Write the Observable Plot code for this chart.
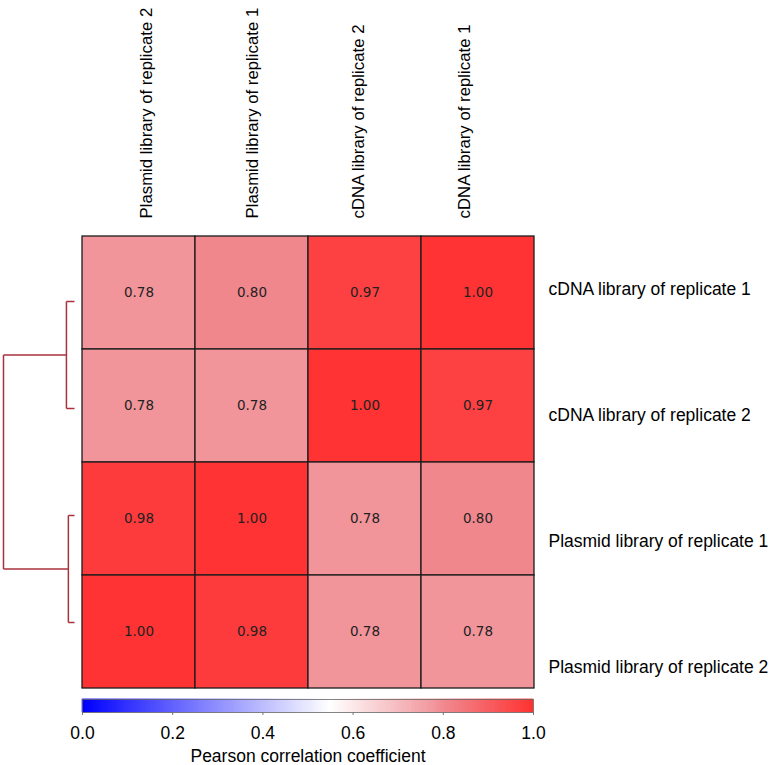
<!DOCTYPE html>
<html>
<head>
<meta charset="utf-8">
<script src="https://cdn.jsdelivr.net/npm/d3@7"></script>
<script src="https://cdn.jsdelivr.net/npm/@observablehq/plot@0.6"></script>
<style>
  html, body { margin: 0; padding: 0; background: #fff; }
  #chart { position: relative; width: 771px; height: 765px; overflow: hidden; background: #fff; }
  #chart svg { position: absolute; left: 0; top: 0; }
  #chart svg g[aria-label="x-axis tick label"] text, #chart svg g[aria-label="x-axis"] text { font-size: 17.5px; }
  #chart svg g[aria-label="x-axis tick"] path, #chart svg g[aria-label="x-axis"] line { stroke: #777; }
</style>
</head>
<body>
<div id="chart"></div>
<script>
// ---- data ----
const columns = [
  "Plasmid library of replicate 2",
  "Plasmid library of replicate 1",
  "cDNA library of replicate 2",
  "cDNA library of replicate 1"
];
const rowsLabels = [
  "cDNA library of replicate 1",
  "cDNA library of replicate 2",
  "Plasmid library of replicate 1",
  "Plasmid library of replicate 2"
];
const rowCDNA1 = [0.78, 0.80, 0.97, 1.00];
const rowCDNA2 = [0.78, 0.78, 1.00, 0.97];
const rowPlasmid1 = [0.98, 1.00, 0.78, 0.80];
const rowPlasmid2 = [1.00, 0.98, 0.78, 0.78];
// dendrogram linkage (child a, child b, distance); leaves 0..3 in row order
const linkage = [[0, 1, 0.025], [2, 3, 0.019], [4, 5, 0.22]];
const colorbarTicks = [0, 0.2, 0.4, 0.6, 0.8, 1.0];
const colorbarLabel = "Pearson correlation coefficient";

// ---- derived tables ----
const matrix = [rowCDNA1, rowCDNA2, rowPlasmid1, rowPlasmid2];
const cells = rowsLabels.flatMap((r, i) => matrix[i].map((v, j) => ({row: r, col: columns[j], value: v})));

const nodes = rowsLabels.map((r, i) => ({pos: i + 0.5, h: 0}));
const segs = [];
for (const [a, b, d] of linkage) {
  const A = nodes[a], B = nodes[b];
  segs.push({x1: A.h, y1: A.pos, x2: d, y2: A.pos});
  segs.push({x1: B.h, y1: B.pos, x2: d, y2: B.pos});
  segs.push({x1: d, y1: A.pos, x2: d, y2: B.pos});
  nodes.push({pos: (A.pos + B.pos) / 2, h: d});
}

const N = 452;
const gradient = d3.range(N).map(i => ({x1: i / N, x2: (i + 1) / N, v: (i + 0.5) / N}));

const colorOpts = {
  type: "linear",
  domain: [0, 0.55, 0.78, 0.80, 1.0],
  range: ["#0000ff", "#ffffff", "#f1959b", "#f0878d", "#ff3333"],
  interpolate: "rgb"
};

const baseStyle = {background: "transparent", fontFamily: "'Liberation Sans', Arial, sans-serif", fontSize: "17.5px", color: "#000", overflow: "visible"};
const W = 771, H = 765;
const chart = document.getElementById("chart");

// heatmap
chart.append(Plot.plot({
  width: W, height: H,
  marginLeft: 82, marginRight: 237, marginTop: 235, marginBottom: 76,
  x: {domain: columns, padding: 0, axis: null},
  y: {domain: rowsLabels, padding: 0, axis: null},
  color: colorOpts,
  style: {...baseStyle, overflow: "hidden"},
  marks: [
    Plot.cell(cells, {x: "col", y: "row", fill: "value", stroke: "#1c1c1c", strokeWidth: 1.3}),
    Plot.text(cells, {x: "col", y: "row", text: d => d.value.toFixed(2), fontFamily: "'DejaVu Sans', sans-serif", fontSize: 13.5, fill: "#222"})
  ]
}));

// dendrogram
chart.append(Plot.plot({
  width: W, height: H,
  x: {domain: [0.22, 0], range: [3, 74], axis: null},
  y: {domain: [0, 4], range: [247.5, 675.5], axis: null},
  style: baseStyle,
  marks: [
    Plot.link(segs, {x1: "x1", y1: "y1", x2: "x2", y2: "y2", stroke: "#a8323c", strokeWidth: 1.5})
  ]
}));

// row and column labels
chart.append(Plot.plot({
  width: W, height: H,
  marginLeft: 548, marginBottom: H - 218, marginTop: 0, marginRight: 0,
  x: {type: "point", domain: columns, range: [150, 470], padding: 0, axis: null},
  y: {type: "point", domain: rowsLabels, range: [288, 668], padding: 0, axis: null},
  style: baseStyle,
  marks: [
    Plot.text(columns, {x: d => d, text: d => d, rotate: -90, textAnchor: "start", frameAnchor: "bottom", fontSize: 16.8, fill: "#000"}),
    Plot.text(rowsLabels, {y: d => d, text: d => d, textAnchor: "start", frameAnchor: "left", fontSize: 17.5, fill: "#000"})
  ]
}));

// colorbar
chart.append(Plot.plot({
  width: W, height: H,
  marginLeft: 82, marginRight: W - 533, marginTop: 699, marginBottom: H - 712,
  x: {domain: [0, 1], ticks: colorbarTicks, tickFormat: d3.format(".1f"), tickSize: 3, tickPadding: 11, label: null},
  y: {axis: null},
  color: colorOpts,
  style: baseStyle,
  marks: [
    Plot.rect(gradient, {x1: "x1", x2: "x2", fill: "v", stroke: "v", strokeWidth: 0.6}),
    Plot.frame({stroke: "#666", strokeWidth: 0.8}),
    Plot.text([colorbarLabel], {text: d => d, frameAnchor: "bottom", dy: 49, fontSize: 17.5, fill: "#000"})
  ]
}));
</script>
</body>
</html>
